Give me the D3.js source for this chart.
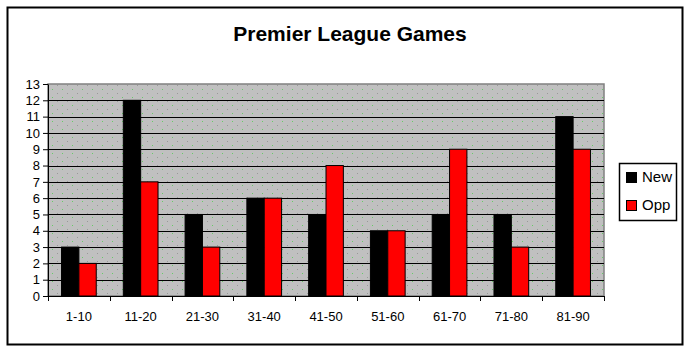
<!DOCTYPE html>
<html>
<head>
<meta charset="utf-8">
<script src="https://cdn.jsdelivr.net/npm/d3@7"></script>
<style>
  body { margin: 0; background: #fff; }
  svg { display: block; font-family: Arial, "Liberation Sans", sans-serif; }
</style>
</head>
<body>
<svg id="chart" width="689" height="351"></svg>
<script>
// Premier League Games - goals per 10 minute period
const categories = ['1-10', '11-20', '21-30', '31-40', '41-50', '51-60', '61-70', '71-80', '81-90'];
const newValues = [3, 12, 5, 6, 5, 4, 5, 5, 11];
const oppValues = [2, 7, 3, 6, 8, 4, 9, 3, 9];
const seriesNames = ['New', 'Opp'];
const seriesColors = ['#000000', '#ff0000'];
const yTicks = d3.range(0, 14);

const WIDTH = 689;
const HEIGHT = 351;
const PLOT = { left: 48, right: 604, top: 84, bottom: 296 };

let svg = d3.select('#chart');

// outer frame
svg.append('rect')
    .attr('x', 7.5).attr('y', 7.5)
    .attr('width', 675).attr('height', 337)
    .attr('fill', '#fff')
    .attr('stroke', '#000')
    .attr('stroke-width', 2);

// dotted fill like the old excel plot area
let defs = svg.append('defs');
let pat = defs.append('pattern')
    .attr('id', 'dots')
    .attr('patternUnits', 'userSpaceOnUse')
    .attr('width', 10).attr('height', 8);
pat.append('rect').attr('width', 10).attr('height', 8).attr('fill', '#c0c0c0');
pat.append('rect').attr('x', 2).attr('y', 1).attr('width', 1).attr('height', 1).attr('fill', '#66cc66');
pat.append('rect').attr('x', 7).attr('y', 5).attr('width', 1).attr('height', 1).attr('fill', '#999999');

// Scales
let xScale = d3.scaleBand()
    .domain(categories)
    .range([PLOT.left, PLOT.right]);
let xInner = d3.scaleBand()
    .domain(seriesNames)
    .range([0, xScale.bandwidth()])
    .paddingOuter(0.78)
    .paddingInner(0);
let yScale = d3.scaleLinear()
    .domain([0, 13])
    .range([PLOT.bottom, PLOT.top]);

// plot area
svg.append('rect')
    .attr('x', PLOT.left).attr('y', PLOT.top)
    .attr('width', PLOT.right - PLOT.left)
    .attr('height', PLOT.bottom - PLOT.top)
    .attr('fill', 'url(#dots)')
    .attr('stroke', '#808080')
    .attr('stroke-width', 1.5);

// gridlines
svg.append('g')
    .selectAll('line')
    .data(yTicks.filter(d => d > 0 && d < 13))
    .join('line')
    .attr('x1', PLOT.left).attr('x2', PLOT.right)
    .attr('y1', d => Math.round(yScale(d)) + 0.5)
    .attr('y2', d => Math.round(yScale(d)) + 0.5)
    .attr('stroke', '#000');

// Y Axis
let yAxis = svg.append('g')
    .attr('transform', `translate(${PLOT.left}, 0)`)
    .call(d3.axisLeft(yScale).tickValues(yTicks).tickSize(5).tickPadding(3).tickSizeOuter(0));
yAxis.selectAll('text').attr('font-size', 13).attr('fill', '#000').attr('font-family', 'Arial, "Liberation Sans", sans-serif');
yAxis.select('.domain').attr('stroke', '#000');

// X Axis - ticks sit on category boundaries
let bounds = categories.map(c => xScale(c)).concat([PLOT.right]);
let xAxis = svg.append('g');
xAxis.append('line')
    .attr('x1', PLOT.left).attr('x2', PLOT.right)
    .attr('y1', PLOT.bottom + 0.5).attr('y2', PLOT.bottom + 0.5)
    .attr('stroke', '#000');
xAxis.selectAll('.tick')
    .data(bounds)
    .join('line')
    .attr('class', 'tick')
    .attr('x1', d => Math.round(d) + 0.5).attr('x2', d => Math.round(d) + 0.5)
    .attr('y1', PLOT.bottom).attr('y2', PLOT.bottom + 5)
    .attr('stroke', '#000');
xAxis.selectAll('text')
    .data(categories)
    .join('text')
    .attr('x', d => xScale(d) + xScale.bandwidth() / 2)
    .attr('y', 321)
    .attr('text-anchor', 'middle')
    .attr('font-size', 13)
    .text(d => d);

// Draw bars
let rows = categories.map((c, i) => ({ cat: c, values: [newValues[i], oppValues[i]] }));
let groups = svg.append('g')
    .selectAll('g')
    .data(rows)
    .join('g')
    .attr('transform', d => `translate(${xScale(d.cat)},0)`);
groups.selectAll('rect')
    .data(d => d.values.map((v, i) => ({ key: seriesNames[i], value: v, color: seriesColors[i] })))
    .join('rect')
    .attr('x', d => xInner(d.key))
    .attr('y', d => yScale(d.value))
    .attr('width', xInner.bandwidth())
    .attr('height', d => yScale(0) - yScale(d.value))
    .attr('fill', d => d.color)
    .attr('stroke', '#000')
    .attr('stroke-width', 1);

// Title
svg.append('text')
    .attr('x', 350).attr('y', 41)
    .attr('text-anchor', 'middle')
    .attr('font-size', 21)
    .attr('font-weight', 'bold')
    .text('Premier League Games');

// Legend
let legend = svg.append('g');
legend.append('rect')
    .attr('x', 619.5).attr('y', 163.5)
    .attr('width', 57).attr('height', 57)
    .attr('fill', '#fff')
    .attr('stroke', '#000')
    .attr('stroke-width', 1.5);
let items = legend.selectAll('g')
    .data(seriesNames)
    .join('g')
    .attr('transform', (d, i) => `translate(626, ${172 + i * 28})`);
items.append('rect')
    .attr('x', 0.5).attr('y', 0.5)
    .attr('width', 10).attr('height', 10)
    .attr('fill', (d, i) => seriesColors[i])
    .attr('stroke', '#000');
items.append('text')
    .attr('x', 16).attr('y', 10)
    .attr('font-size', 15)
    .text(d => d);
</script>
</body>
</html>
